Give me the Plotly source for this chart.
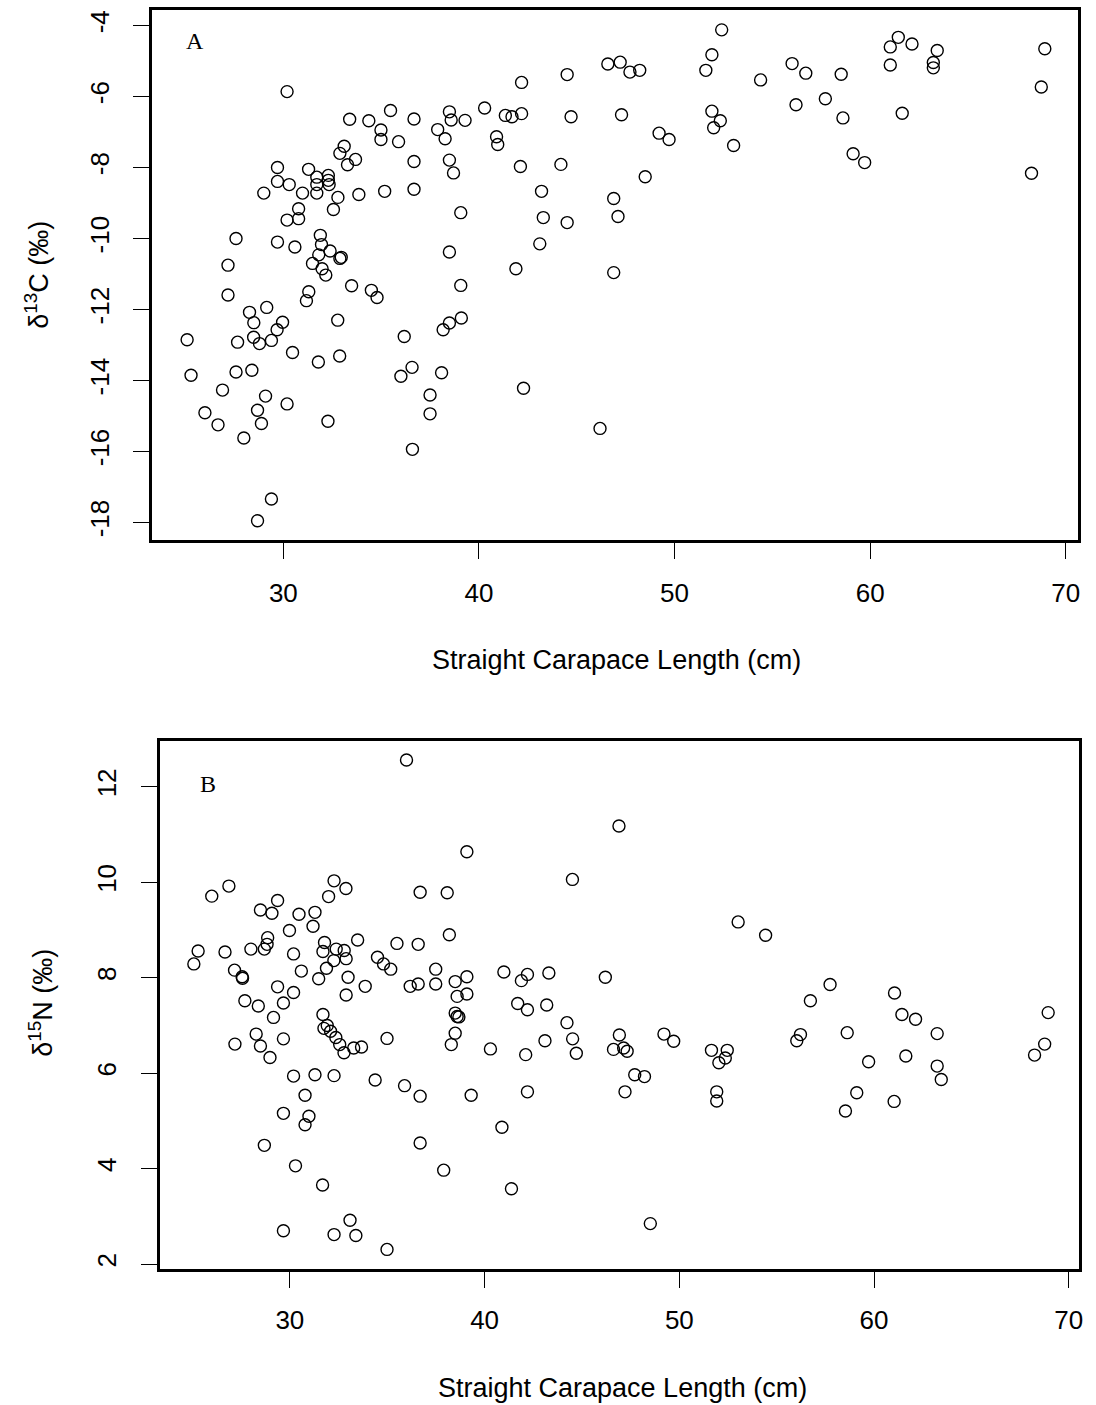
import plotly.graph_objects as go

# ---------------- data ----------------
scl_c = [30.19, 33.39, 34.37, 35.48, 36.68, 34.99, 34.99, 35.89, 33.11, 32.89, 33.69, 33.28, 36.68,
         38.49, 38.58, 39.29, 37.89, 38.27, 40.29, 41.35, 41.69, 42.18, 42.18, 40.90, 40.96, 42.12,
         38.49, 38.70, 29.70, 31.29, 29.70, 30.30, 29.00, 30.98, 31.71, 31.71, 31.71, 32.30, 32.30,
         32.34, 32.79, 32.56, 33.86, 35.18, 36.68, 30.78, 30.78, 30.19, 39.07, 27.58, 29.70, 30.59,
         31.89, 31.95, 32.39, 31.81, 32.96, 32.89, 31.49, 38.49, 27.17, 31.98, 41.89, 32.17,
         33.49, 34.50, 34.79, 39.07, 27.17, 31.30, 31.18, 28.27, 29.15, 28.49, 29.96, 29.68, 29.39,
         28.48, 28.78, 27.66, 25.08, 32.78, 30.47, 31.79, 32.88, 36.18, 38.17, 38.49, 39.10, 25.28,
         27.58, 28.39, 36.01, 36.58, 38.09, 26.89, 29.09, 30.19, 25.99, 26.66, 28.68, 28.88, 27.98,
         32.28, 37.50, 37.50, 36.60, 42.28, 29.39, 28.68,
         44.51, 44.71, 44.19, 43.20, 43.29, 44.51, 43.11, 46.59, 47.22, 47.72, 48.22, 47.29, 46.89,
         47.11, 46.89, 48.50, 49.21, 49.72, 52.41, 51.91, 51.60, 51.91, 52.34, 52.00, 53.02, 54.40,
         56.01, 56.71, 58.52, 56.21, 57.71, 58.61, 59.13, 59.72, 61.44, 61.03, 62.14, 61.03, 61.64,
         63.43, 63.23, 63.23, 68.93, 68.75, 68.25, 46.19]
d13c = [-5.86, -6.64, -6.68, -6.39, -6.63, -6.94, -7.21, -7.27, -7.40, -7.60, -7.77, -7.92, -7.83,
        -6.43, -6.66, -6.67, -6.93, -7.19, -6.32, -6.53, -6.57, -6.48, -5.60, -7.13, -7.35, -7.97,
        -7.79, -8.15, -8.00, -8.05, -8.39, -8.48, -8.72, -8.72, -8.27, -8.48, -8.72, -8.22, -8.36,
        -8.48, -8.84, -9.18, -8.76, -8.67, -8.61, -9.16, -9.44, -9.48, -9.27, -10.00, -10.10, -10.24,
        -9.91, -10.17, -10.35, -10.46, -10.53, -10.56, -10.70, -10.38, -10.75, -10.85, -10.85, -11.03,
        -11.33, -11.46, -11.66, -11.32, -11.59, -11.50, -11.75, -12.08, -11.94, -12.37, -12.36, -12.57,
        -12.87, -12.78, -12.96, -12.92, -12.85, -12.30, -13.21, -13.48, -13.31, -12.76, -12.57, -12.38,
        -12.24, -13.85, -13.76, -13.71, -13.88, -13.63, -13.78, -14.27, -14.44, -14.66, -14.91, -15.25,
        -14.84, -15.21, -15.62, -15.15, -14.41, -14.94, -15.94, -14.22, -17.34, -17.95,
        -5.38, -6.57, -7.91, -8.67, -9.41, -9.55, -10.15, -5.08, -5.03, -5.31, -5.26, -6.51, -8.87,
        -9.38, -10.96, -8.26, -7.03, -7.21, -4.12, -4.82, -5.26, -6.41, -6.68, -6.88, -7.38, -5.53,
        -5.07, -5.34, -5.37, -6.23, -6.06, -6.60, -7.61, -7.86, -4.33, -4.60, -4.52, -5.11, -6.47,
        -4.70, -5.04, -5.19, -4.65, -5.73, -8.16, -15.35]

scl_n = [35.99, 39.09, 25.99, 26.87, 29.37, 28.49, 29.08, 30.47, 31.29, 31.19, 29.98, 32.27, 32.88,
         31.99, 36.69, 38.08, 38.19, 25.29, 25.07, 26.67, 28.00, 28.86, 28.83, 28.69, 30.19, 31.78,
         31.70, 32.38, 32.79, 32.89, 32.26, 33.48, 35.50, 36.59, 27.16, 27.57, 27.55, 30.59, 31.88,
         31.48, 32.99, 34.50, 34.81, 35.18, 37.49, 39.09, 38.49, 40.99, 42.20, 41.89, 29.37, 30.19,
         32.89, 33.87, 36.18, 36.59, 37.49, 38.59, 39.09, 27.69, 28.38, 29.67, 41.70,
         29.16, 31.70, 31.92, 31.75, 32.09, 32.36, 32.56, 32.78, 33.28, 33.68, 34.99, 28.27, 27.18,
         28.49, 28.98, 29.67, 38.49, 38.59, 38.68, 38.49, 38.29, 40.30, 42.20, 42.11, 42.20, 30.19,
         31.29, 32.27, 34.38, 35.89, 36.69, 39.31, 30.78, 29.67, 30.98, 30.78, 40.89, 28.69, 36.69,
         30.29, 37.90, 31.68, 41.38, 33.09, 29.67, 32.27, 33.39, 34.99,
         46.90, 44.51, 53.02, 54.43, 43.30, 46.20, 57.74, 61.05, 56.73,
         43.19, 44.23, 43.10, 44.52, 44.71, 46.92, 46.62, 47.14, 47.32, 49.21, 49.71, 47.71, 48.21,
         47.21, 48.51, 51.65, 52.46, 52.36, 52.03, 51.92, 51.92, 56.22, 56.03, 58.62, 59.72, 59.11,
         58.53, 61.43, 62.13, 63.24, 61.63, 63.24, 63.45, 61.03, 68.94, 68.76, 68.24]
d15n = [12.56, 10.64, 9.71, 9.92, 9.62, 9.42, 9.35, 9.33, 9.37, 9.08, 8.99, 10.03, 9.87,
        9.70, 9.79, 9.78, 8.90, 8.56, 8.29, 8.54, 8.60, 8.84, 8.70, 8.60, 8.50, 8.74,
        8.55, 8.60, 8.57, 8.40, 8.36, 8.79, 8.72, 8.70, 8.16, 7.99, 8.02, 8.14, 8.20,
        7.98, 8.01, 8.43, 8.29, 8.18, 8.18, 8.02, 7.92, 8.12, 8.07, 7.94, 7.81, 7.69,
        7.64, 7.82, 7.82, 7.87, 7.87, 7.61, 7.66, 7.52, 7.41, 7.47, 7.46,
        7.17, 7.23, 7.00, 6.94, 6.88, 6.75, 6.60, 6.43, 6.53, 6.55, 6.73, 6.82, 6.61,
        6.57, 6.33, 6.72, 7.26, 7.19, 7.18, 6.84, 6.60, 6.51, 7.33, 6.39, 5.61, 5.94,
        5.97, 5.95, 5.86, 5.74, 5.52, 5.54, 5.54, 5.16, 5.10, 4.92, 4.87, 4.49, 4.54,
        4.06, 3.97, 3.66, 3.58, 2.92, 2.70, 2.62, 2.60, 2.31,
        11.18, 10.06, 9.17, 8.89, 8.10, 8.01, 7.86, 7.68, 7.52,
        7.43, 7.06, 6.68, 6.72, 6.42, 6.80, 6.50, 6.53, 6.46, 6.82, 6.67, 5.97, 5.93,
        5.61, 2.85, 6.48, 6.48, 6.32, 6.22, 5.61, 5.42, 6.81, 6.68, 6.85, 6.24, 5.59,
        5.21, 7.23, 7.13, 6.83, 6.36, 6.15, 5.87, 5.41, 7.27, 6.61, 6.38]

x_ticks = [30, 40, 50, 60, 70]
c_ticks = [-4, -6, -8, -10, -12, -14, -16, -18]
c_tick_text = ["-4", "-6", "-8", "-10", "-12", "-14", "-16", "-18"]
n_ticks = [2, 4, 6, 8, 10, 12]

x_title = "Straight Carapace Length (cm)"
c_title = "δ<sup>13</sup>C (‰)"
n_title = "δ<sup>15</sup>N (‰)"

# ---------------- figure ----------------
W, H = 1096, 1405
SANS = "Liberation Sans, Arial, sans-serif"
SERIF = "Liberation Serif, Times New Roman, serif"

marker = dict(symbol="circle-open", size=12, color="black", line=dict(width=1.4, color="black"))

fig = go.Figure()
fig.add_trace(go.Scatter(x=scl_c, y=d13c, mode="markers", marker=marker,
                         xaxis="x", yaxis="y", showlegend=False, hoverinfo="skip"))
fig.add_trace(go.Scatter(x=scl_n, y=d15n, mode="markers", marker=marker,
                         xaxis="x2", yaxis="y2", showlegend=False, hoverinfo="skip"))

def px_x(p):
    return p / W

def px_y(p):
    return 1 - p / H

axis_common = dict(showline=True, mirror=True, linecolor="black", linewidth=3,
                   ticks="outside", ticklen=16, tickwidth=1.2, tickcolor="black",
                   showgrid=False, zeroline=False,
                   tickfont=dict(family=SANS, size=26, color="black"))

fig.update_layout(
    width=W, height=H,
    margin=dict(l=0, r=0, t=0, b=0),
    paper_bgcolor="white", plot_bgcolor="white",
    xaxis=dict(domain=[px_x(153), px_x(1083)], range=[23.30, 70.63], anchor="y",
               tickvals=x_ticks, ticklabelstandoff=12, **axis_common),
    yaxis=dict(domain=[px_y(540.2), px_y(10)], range=[-18.50, -3.56], anchor="x",
               tickvals=c_ticks, ticktext=c_tick_text, tickangle=-90, ticklabelstandoff=14,
               **axis_common),
    xaxis2=dict(domain=[px_x(160.5), px_x(1083.5)], range=[23.32, 70.50], anchor="y2",
                tickvals=x_ticks, ticklabelstandoff=10, **axis_common),
    yaxis2=dict(domain=[px_y(1268.5), px_y(740.5)], range=[1.91, 12.97], anchor="x2",
                tickvals=n_ticks, tickangle=-90, ticklabelstandoff=14, **axis_common),
)

ann_font = dict(family=SANS, size=27, color="black")
annotations = [
    dict(text=x_title, x=px_x(619), y=px_y(660), xref="paper", yref="paper",
         xanchor="center", yanchor="middle", showarrow=False, font=ann_font),
    dict(text=x_title, x=px_x(625), y=px_y(1388), xref="paper", yref="paper",
         xanchor="center", yanchor="middle", showarrow=False, font=ann_font),
    dict(text=c_title, x=px_x(37), y=px_y(275), xref="paper", yref="paper", textangle=-90,
         xanchor="center", yanchor="middle", showarrow=False, font=ann_font),
    dict(text=n_title, x=px_x(41), y=px_y(1003), xref="paper", yref="paper", textangle=-90,
         xanchor="center", yanchor="middle", showarrow=False, font=ann_font),
    dict(text="A", x=px_x(196), y=px_y(41), xref="paper", yref="paper",
         xanchor="center", yanchor="middle", showarrow=False,
         font=dict(family=SERIF, size=24, color="black")),
    dict(text="B", x=px_x(209), y=px_y(784), xref="paper", yref="paper",
         xanchor="center", yanchor="middle", showarrow=False,
         font=dict(family=SERIF, size=24, color="black")),
]
fig.update_layout(annotations=annotations)

fig.write_html("out.html")
